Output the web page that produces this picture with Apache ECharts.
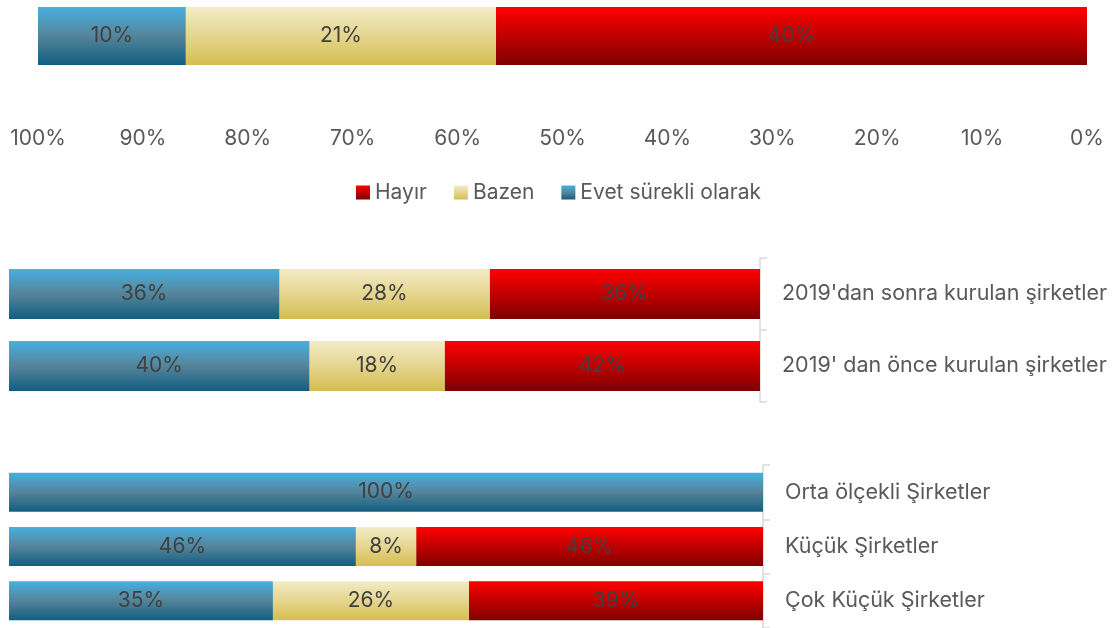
<!DOCTYPE html>
<html>
<head>
<meta charset="utf-8">
<script src="https://cdn.jsdelivr.net/npm/echarts@6/dist/echarts.min.js"></script>
<style>
  html, body { margin: 0; padding: 0; background: #fff; }
  #chart { width: 1117px; height: 628px; }
</style>
</head>
<body>
<div id="chart"></div>
<script>
// answer names, in stacking order (right to left)
const answers = ["Hayır", "Bazen", "Evet sürekli olarak"];

// overall
const overallCats = ["Genel"];
const overallHayir = [40];
const overallBazen = [21];
const overallEvet = [10];

// by founding year
const foundCats = ["2019'dan sonra kurulan şirketler", "2019' dan önce kurulan şirketler"];
const foundHayir = [36, 42];
const foundBazen = [28, 18];
const foundEvet = [36, 40];

// by company size
const sizeCats = ["Orta ölçekli Şirketler", "Küçük Şirketler", "Çok Küçük Şirketler"];
const sizeHayir = [0, 46, 39];
const sizeBazen = [0, 8, 26];
const sizeEvet = [100, 46, 35];

const tickValues = [0, 10, 20, 30, 40, 50, 60, 70, 80, 90, 100];

const FONT = "Inter";
const FS = 21;

function grad(stops) {
  return new echarts.graphic.LinearGradient(0, 0, 0, 1,
    stops.map((c, i) => ({ offset: i / (stops.length - 1), color: c })));
}
const colors = {
  "Hayır": grad(["#ff0000", "#c00000", "#7f0000"]),
  "Bazen": grad(["#f3ebc6", "#e5d58f", "#d5be4e"]),
  "Evet sürekli olarak": grad(["#48afe0", "#55849a", "#125e80"]),
};

// row totals so every bar fills 100%
function totalsOf(hayir, bazen, evet) {
  return hayir.map((_, i) => hayir[i] + bazen[i] + evet[i]);
}
function toData(vals, totals) {
  return vals.map((v, i) => ({ value: v / totals[i] * 100, raw: v }));
}

function panelSeries(idx, hayir, bazen, evet, barWidth) {
  const totals = totalsOf(hayir, bazen, evet);
  const sets = [hayir, bazen, evet];
  return answers.map((name, k) => ({
    name: name,
    type: "bar",
    stack: "p" + idx,
    xAxisIndex: idx,
    yAxisIndex: idx,
    barWidth: barWidth,
    itemStyle: { color: colors[name] },
    label: {
      show: true,
      position: "inside",
      color: "#404040",
      fontFamily: FONT,
      fontSize: FS,
      formatter: (p) => (p.data.raw ? p.data.raw + "%" : ""),
    },
    emphasis: { disabled: true },
    data: toData(sets[k], totals),
  }));
}

const chart = echarts.init(document.getElementById("chart"));

const option = {
  animation: false,
  textStyle: { fontFamily: FONT },
  legend: {
    data: answers,
    top: 177,
    left: "center",
    icon: "rect",
    itemWidth: 14,
    itemHeight: 14,
    itemGap: 27,
    textStyle: { color: "#595959", fontSize: FS, fontFamily: FONT },
  },
  grid: [
    { left: 38, width: 1049, top: 7, height: 58 },
    { left: 9, width: 751, top: 258, height: 144 },
    { left: 9, width: 754, top: 465, height: 165 },
  ],
  xAxis: [0, 1, 2].map((i) => ({
    gridIndex: i,
    type: "value",
    inverse: true,
    min: 0,
    max: 100,
    interval: 10,
    show: i === 0,
    axisLine: { show: false },
    axisTick: { show: false },
    splitLine: { show: false },
    axisLabel: {
      margin: 63,
      color: "#595959",
      fontSize: FS,
      fontFamily: FONT,
      formatter: (v) => (tickValues.includes(v) ? v + "%" : ""),
    },
  })),
  yAxis: [
    { gridIndex: 0, type: "category", data: overallCats, show: false },
    ...[[1, foundCats], [2, sizeCats]].map(([i, cats]) => ({
      gridIndex: i,
      type: "category",
      data: cats,
      inverse: true,
      position: "right",
      axisLine: { show: true, lineStyle: { color: "#d9d9d9", width: 1.5 } },
      axisTick: { show: true, length: 7, lineStyle: { color: "#d9d9d9", width: 1.5 } },
      axisLabel: { margin: 22, color: "#595959", fontSize: 21.5, fontFamily: FONT },
    })),
  ],
  series: [
    ...panelSeries(0, overallHayir, overallBazen, overallEvet, 58),
    ...panelSeries(1, foundHayir, foundBazen, foundEvet, 50),
    ...panelSeries(2, sizeHayir, sizeBazen, sizeEvet, 39),
  ],
};

chart.setOption(option);
</script>
</body>
</html>
